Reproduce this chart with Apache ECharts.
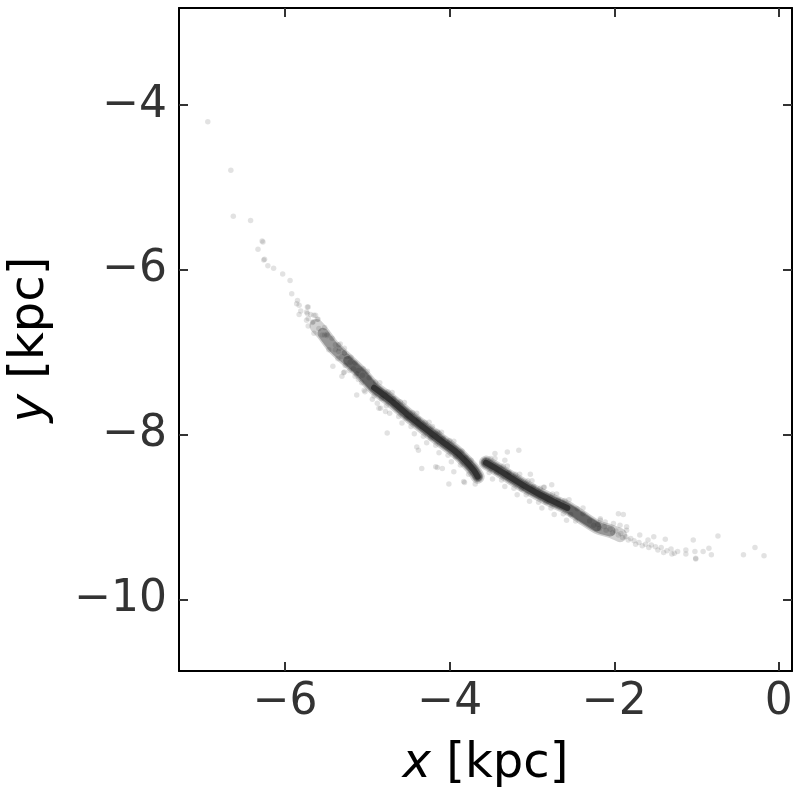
<!DOCTYPE html>
<html>
<head>
<meta charset="utf-8">
<script src="https://cdn.jsdelivr.net/npm/echarts@6/dist/echarts.min.js"></script>
<style>
  html, body { margin: 0; padding: 0; background: #fff; }
  #chart { width: 800px; height: 800px; }
</style>
</head>
<body>
<div id="chart"></div>
<script>
// tick values
const xTicks = [-6, -4, -2, 0];
const yTicks = [-10, -8, -6, -4];

// centre line of the dense stream, leading piece (before the gap)
const leadSpine = [[-5.62,-6.68],[-5.54,-6.77],[-5.41,-6.94],[-5.24,-7.10],[-5.08,-7.25],[-4.92,-7.43],[-4.72,-7.58],
  [-4.51,-7.76],[-4.32,-7.91],[-4.11,-8.07],[-3.91,-8.22],[-3.78,-8.35],[-3.71,-8.43],[-3.66,-8.51]];
// centre line, trailing piece (after the gap)
const trailSpine = [[-3.56,-8.34],[-3.42,-8.42],[-3.26,-8.52],[-3.08,-8.63],[-2.90,-8.73],[-2.74,-8.81],
  [-2.57,-8.89],[-2.40,-9.00],[-2.21,-9.12],[-2.05,-9.17],[-1.93,-9.22]];

// sparse stars of the upper-left tail
const tailStars = [[-6.94,-4.20],[-6.66,-4.79],[-6.63,-5.35],[-6.42,-5.40],[-6.27,-5.66],[-6.28,-5.65],[-6.33,-5.75],
  [-6.26,-5.88],[-6.25,-5.87],[-6.21,-5.95],[-6.14,-5.98],[-6.03,-6.05],[-5.94,-6.13],[-5.92,-6.29],[-5.85,-6.37],
  [-5.86,-6.41],[-5.83,-6.43],[-5.73,-6.45],[-5.72,-6.45],[-5.81,-6.50],[-5.74,-6.51],[-5.73,-6.53],[-5.69,-6.54],
  [-5.83,-6.54],[-5.65,-6.55],[-5.63,-6.55],[-5.72,-6.59],[-5.60,-6.60],[-5.61,-6.60],[-5.74,-6.61],[-5.66,-6.63],
  [-5.67,-6.64],[-5.72,-6.68],[-5.59,-6.71],[-5.52,-6.70],[-5.65,-6.77],[-5.55,-6.79],[-5.52,-6.79],[-5.49,-6.80],
  [-5.49,-6.78],[-5.43,-6.83],[-5.39,-6.91],[-5.33,-6.90],[-5.47,-6.97],[-5.39,-6.97],[-5.35,-6.99],[-5.34,-6.95],
  [-5.28,-6.95],[-5.28,-7.01],[-5.31,-7.05],[-5.25,-7.05],[-5.42,-7.17],[-5.21,-7.12],[-5.15,-7.13],[-5.27,-7.16],
  [-5.17,-7.20],[-5.11,-7.22],[-5.28,-7.24],[-5.06,-7.28],[-5.15,-7.29],[-5.31,-7.29],[-5.11,-7.33],[-5.29,-7.25]];

// stars on the edges of the dense band
const bandStars = [[-5.35,-6.91],[-5.36,-7.08],[-5.20,-7.06],[-5.22,-7.22],[-5.05,-7.20],[-5.07,-7.37],[-4.90,-7.36],
  [-4.92,-7.53],[-4.75,-7.48],[-4.77,-7.65],[-4.60,-7.60],[-4.62,-7.78],[-4.45,-7.73],[-4.47,-7.90],[-4.30,-7.85],
  [-4.32,-8.02],[-4.15,-7.96],[-4.17,-8.13],[-4.00,-8.07],[-4.02,-8.25],[-3.85,-8.20],[-3.87,-8.37],[-3.74,-8.31],
  [-3.77,-8.48],[-5.28,-7.01],[-5.13,-7.26],[-4.98,-7.31],[-4.83,-7.56],[-4.68,-7.56],[-4.53,-7.80],[-4.38,-7.81],
  [-4.23,-8.04],[-4.08,-8.04],[-3.93,-8.27],[-3.80,-8.28],
  [-3.50,-8.29],[-3.52,-8.46],[-3.35,-8.38],[-3.37,-8.55],[-3.20,-8.48],[-3.22,-8.65],[-3.05,-8.56],[-3.07,-8.73],
  [-2.90,-8.65],[-2.92,-8.82],[-2.75,-8.72],[-2.77,-8.89],[-2.60,-8.80],[-2.62,-8.96],[-2.45,-8.90],[-2.47,-9.05],
  [-3.43,-8.46],[-3.28,-8.46],[-3.13,-8.66],[-2.98,-8.63],[-2.83,-8.82],[-2.68,-8.79],[-2.53,-8.97],[-2.38,-8.96]];

// stars a little further out from the band
const fringeStars = [[-5.00,-7.23],[-5.03,-7.48],[-4.85,-7.37],[-4.88,-7.62],[-4.70,-7.49],[-4.73,-7.74],[-4.55,-7.61],
  [-4.58,-7.86],[-4.40,-7.74],[-4.43,-7.99],[-4.25,-7.85],[-4.28,-8.10],[-4.10,-7.97],[-4.13,-8.22],[-3.95,-8.08],
  [-3.98,-8.33],[-3.45,-8.29],[-3.48,-8.54],[-3.30,-8.38],[-3.33,-8.63],[-3.15,-8.48],[-3.18,-8.73],[-3.00,-8.56],
  [-3.03,-8.81],[-2.85,-8.64],[-2.88,-8.89],[-2.70,-8.72],[-2.73,-8.97],[-2.55,-8.79],[-2.58,-9.04]];

// stray stars around the band
const sprayStars = [[-5.13,-7.52],[-4.94,-7.57],[-5.04,-7.46],[-4.86,-7.68],[-4.84,-7.68],[-4.78,-7.72],[-4.76,-7.98],
  [-4.40,-8.15],[-4.34,-8.41],[-4.17,-8.39],[-4.15,-8.40],[-4.09,-8.41],[-4.01,-8.60],[-3.82,-8.58],[-4.21,-7.90],
  [-4.13,-7.98],[-4.38,-8.19],[-3.95,-8.45],[-3.83,-8.57],[-3.69,-8.60],
  [-3.45,-8.23],[-3.30,-8.21],[-3.16,-8.19],[-3.33,-8.31],[-3.02,-8.48],[-2.76,-8.61],[-2.86,-8.64],[-2.38,-8.89],
  [-2.17,-9.02],[-1.95,-8.96],[-1.89,-8.97]];

// stars of the lower-right tail
const trailStars = [[-2.30,-9.05],[-2.25,-9.10],[-2.20,-9.09],[-2.18,-9.14],[-2.12,-9.12],[-2.10,-9.16],[-2.05,-9.15],
  [-2.02,-9.19],[-1.98,-9.17],[-1.95,-9.22],[-1.92,-9.20],[-1.90,-9.25],[-1.86,-9.24],[-1.83,-9.28],[-1.80,-9.26],
  [-1.76,-9.29],[-1.74,-9.33],[-1.70,-9.31],[-1.66,-9.35],[-1.62,-9.33],[-1.58,-9.37],[-1.55,-9.34],[-1.50,-9.36],
  [-1.47,-9.40],[-1.43,-9.37],[-1.36,-9.41],[-1.31,-9.39],[-1.27,-9.44],
  [-2.01,-9.08],[-1.93,-9.10],[-1.85,-9.12],[-1.85,-9.16],[-2.17,-9.04],[-2.11,-9.06],[-1.69,-9.22],[-1.52,-9.24],
  [-1.38,-9.27],[-1.59,-9.28]];

const farStars = [[-1.40,-9.43],[-1.30,-9.45],[-1.23,-9.42],[-1.13,-9.40],[-1.13,-9.45],[-1.04,-9.28],[-1.02,-9.42],
  [-1.01,-9.51],[-1.01,-9.50],[-0.92,-9.42],[-0.85,-9.38],[-0.82,-9.46],[-0.74,-9.23],[-0.43,-9.46],[-0.29,-9.37],
  [-0.18,-9.47]];

const chart = echarts.init(document.getElementById("chart"));

const font = "DejaVu Sans";
const minus = (v) => String(v).replace("-", "\u2212");

const baseX = {
  type: "value",
  min: -7.29,
  max: 0.16,
  axisLine: { show: true, onZero: false, lineStyle: { color: "#000", width: 2 } },
  axisTick: { show: true, inside: true, length: 9, customValues: xTicks, lineStyle: { color: "#333", width: 2 } },
  splitLine: { show: false },
};
const baseY = {
  type: "value",
  min: -10.87,
  max: -2.82,
  axisLine: { show: true, onZero: false, lineStyle: { color: "#000", width: 2 } },
  axisTick: { show: true, inside: true, length: 9, customValues: yTicks, lineStyle: { color: "#333", width: 2 } },
  splitLine: { show: false },
};
const nameStyle = {
  fontSize: 48,
  fontFamily: font,
  color: "#000",
  lineHeight: 56,
  rich: { i: { fontStyle: "italic", fontSize: 48, fontFamily: font, color: "#000", lineHeight: 56 } },
};

// spine layers give the dense core, the scatter gives the stars
const spineLayer = (data, width, opacity) => ({
  type: "line",
  data: data,
  smooth: 0.3,
  showSymbol: false,
  silent: true,
  z: 1,
  lineStyle: { color: "#000", width: width, opacity: opacity, cap: "round", join: "round" },
});

chart.setOption({
  animation: false,
  grid: { left: 179, right: 8, top: 8, bottom: 129, outerBoundsMode: "none" },
  xAxis: [
    {
      ...baseX,
      position: "bottom",
      name: "{i|x} [kpc]",
      nameLocation: "middle",
      nameGap: 66,
      nameTextStyle: nameStyle,
      axisLabel: { customValues: xTicks, formatter: minus, fontSize: 44, fontFamily: font, color: "#333", margin: 10 },
    },
    { ...baseX, position: "top", axisLabel: { show: false } },
  ],
  yAxis: [
    {
      ...baseY,
      position: "left",
      name: "{i|y} [kpc]",
      nameLocation: "middle",
      nameGap: 120,
      nameTextStyle: nameStyle,
      axisLabel: { customValues: yTicks, formatter: minus, fontSize: 44, fontFamily: font, color: "#333", margin: 12 },
    },
    { ...baseY, position: "right", axisLabel: { show: false } },
  ],
  series: [
    spineLayer(leadSpine, 14, 0.18),
    spineLayer(trailSpine, 14, 0.18),
    spineLayer(leadSpine.slice(1), 11, 0.28),
    spineLayer(trailSpine.slice(0, 10), 11, 0.28),
    spineLayer(leadSpine.slice(3), 9, 0.34),
    spineLayer(trailSpine.slice(0, 9), 9, 0.34),
    spineLayer(leadSpine.slice(5), 6, 0.5),
    spineLayer(trailSpine.slice(0, 7), 6, 0.5),
    {
      type: "scatter",
      data: [].concat(tailStars, bandStars, fringeStars, sprayStars, trailStars, farStars),
      symbolSize: 5.5,
      z: 2,
      itemStyle: { color: "rgba(0,0,0,0.14)" },
    },
  ],
});
</script>
</body>
</html>
